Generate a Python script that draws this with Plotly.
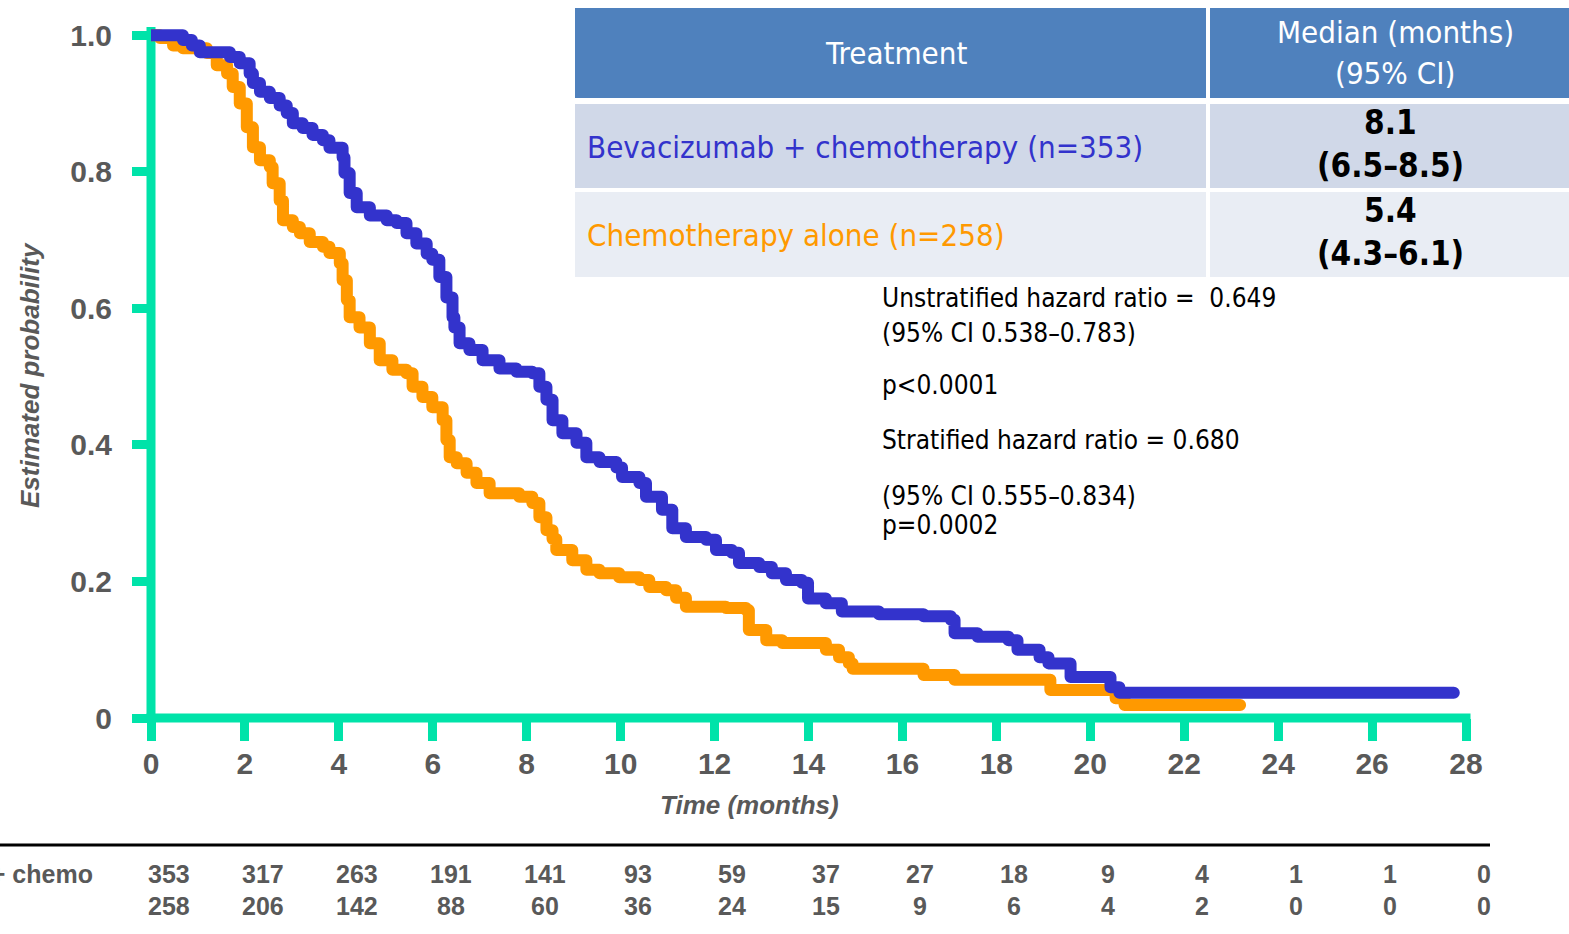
import plotly.graph_objects as go

# ---------------- data ----------------
bev_time = [0, 0.47, 0.68, 0.87, 1.04, 1.53, 1.68, 1.89, 2.10, 2.17, 2.32, 2.53, 2.74, 2.89, 3.02, 3.23,
            3.44, 3.66, 3.80, 4.08, 4.12, 4.23, 4.38, 4.66, 5.02, 5.23, 5.44, 5.65, 5.87, 5.99, 6.14,
            6.29, 6.42, 6.46, 6.57, 6.78, 7.06, 7.42, 7.78, 8.12, 8.27, 8.42, 8.55, 8.76, 9.06, 9.27,
            9.55, 9.91, 10.03, 10.40, 10.54, 10.88, 11.10, 11.39, 11.82, 12.03, 12.37, 12.52, 12.95,
            13.22, 13.52, 13.86, 13.99, 14.37, 14.71, 15.50, 16.45, 17.03, 17.11, 17.60, 18.26, 18.45,
            18.92, 19.11, 19.58, 20.43, 20.62, 27.74]
bev_surv = [1.0, 1.0, 0.993, 0.985, 0.975, 0.975, 0.968, 0.959, 0.944, 0.93, 0.917, 0.908, 0.897, 0.886,
            0.871, 0.864, 0.854, 0.846, 0.835, 0.821, 0.798, 0.769, 0.748, 0.736, 0.729, 0.725, 0.71,
            0.695, 0.68, 0.671, 0.646, 0.616, 0.587, 0.572, 0.549, 0.539, 0.524, 0.512, 0.507, 0.505,
            0.485, 0.466, 0.436, 0.417, 0.403, 0.382, 0.375, 0.367, 0.353, 0.344, 0.324, 0.305, 0.278,
            0.265, 0.261, 0.246, 0.242, 0.227, 0.221, 0.212, 0.202, 0.198, 0.175, 0.168, 0.156, 0.152,
            0.149, 0.144, 0.124, 0.119, 0.114, 0.10, 0.089, 0.08, 0.06, 0.045, 0.037, 0.037]

chemo_time = [0, 0.19, 0.47, 0.68, 1.19, 1.40, 1.62, 1.74, 1.89, 2.04, 2.17, 2.32, 2.53, 2.59, 2.74, 2.81,
              3.02, 3.17, 3.38, 3.66, 3.80, 4.02, 4.08, 4.17, 4.23, 4.44, 4.66, 4.87, 5.14, 5.44, 5.57,
              5.78, 5.99, 6.21, 6.29, 6.36, 6.51, 6.72, 6.93, 7.21, 7.84, 8.12, 8.27, 8.42, 8.55, 8.63,
              8.97, 9.27, 9.55, 9.97, 10.40, 10.61, 10.97, 11.18, 11.39, 12.24, 12.67, 12.73, 13.10,
              13.44, 14.37, 14.65, 14.86, 14.94, 16.45, 17.11, 19.15, 20.54, 20.73, 23.19]
chemo_surv = [1.0, 0.996, 0.985, 0.981, 0.974, 0.956, 0.944, 0.924, 0.900, 0.865, 0.836, 0.817, 0.807,
              0.783, 0.758, 0.729, 0.719, 0.710, 0.697, 0.690, 0.681, 0.666, 0.641, 0.612, 0.587, 0.572,
              0.549, 0.524, 0.510, 0.505, 0.485, 0.470, 0.455, 0.436, 0.407, 0.382, 0.373, 0.359, 0.344,
              0.329, 0.324, 0.315, 0.294, 0.275, 0.262, 0.246, 0.231, 0.217, 0.212, 0.206, 0.202, 0.192,
              0.187, 0.176, 0.163, 0.161, 0.158, 0.129, 0.114, 0.110, 0.10, 0.089, 0.08, 0.072, 0.063,
              0.056, 0.041, 0.029, 0.019, 0.019]

x_ticks = list(range(0, 29, 2))
y_tickvals = [0, 0.2, 0.4, 0.6, 0.8, 1.0]
y_ticktext = ["0", "0.2", "0.4", "0.6", "0.8", "1.0"]

risk_bev = [353, 317, 263, 191, 141, 93, 59, 37, 27, 18, 9, 4, 1, 1, 0]
risk_chemo = [258, 206, 142, 88, 60, 36, 24, 15, 9, 6, 4, 2, 0, 0, 0]

table_header = ["Treatment", "Median (months)", "(95% CI)"]
table_rows = ["Bevacizumab + chemotherapy (n=353)", "Chemotherapy alone (n=258)"]
table_medians = [("8.1", "(6.5–8.5)"), ("5.4", "(4.3–6.1)")]
stats_lines = ["Unstratified hazard ratio =  0.649", "(95% CI 0.538–0.783)", "p<0.0001",
               "Stratified hazard ratio = 0.680", "(95% CI 0.555–0.834)", "p=0.0002"]

# ---------------- style ----------------
W, H = 1569, 934
L, R, T, B = 151, 1466, 27, 718
X_MAX = 28
Y_MAX = 1.012
TEAL = "#00E3A9"
BLUE = "#3333CC"
ORANGE = "#FF9900"
GRAY = "#595959"
TAHOMA = "DejaVu Sans Condensed, DejaVu Sans, sans-serif"
ARIAL = "Liberation Sans, Arial, sans-serif"
AXW = 9


def px(x):
    return (x - L) / (R - L)


def py(y):
    return (B - y) / (B - T)


fig = go.Figure()
fig.add_trace(go.Scatter(x=chemo_time, y=chemo_surv, mode="lines", line=dict(color=ORANGE, width=12, shape="hv"),
                         name="Chemotherapy alone", showlegend=False))
fig.add_trace(go.Scatter(x=bev_time, y=bev_surv, mode="lines", line=dict(color=BLUE, width=12, shape="hv"),
                         name="Bevacizumab + chemotherapy", showlegend=False))

shapes = []
# axis lines (centred on the plot edges)
shapes.append(dict(type="line", xref="paper", yref="paper", x0=0, x1=0, y0=py(B + AXW / 2), y1=1,
                   line=dict(color=TEAL, width=AXW), layer="below"))
shapes.append(dict(type="line", xref="paper", yref="paper", x0=px(L - AXW / 2), x1=px(R + AXW / 2), y0=0, y1=0,
                   line=dict(color=TEAL, width=AXW), layer="below"))
# table backgrounds
cells = [
    (575, 1206, 8, 98, "#4F81BD"), (1210, 1569, 8, 98, "#4F81BD"),
    (575, 1206, 104, 188, "#D0D8E8"), (1210, 1569, 104, 188, "#D0D8E8"),
    (575, 1206, 192, 277, "#E9EDF4"), (1210, 1569, 192, 277, "#E9EDF4"),
]
for x0, x1, y0, y1, c in cells:
    shapes.append(dict(type="rect", xref="paper", yref="paper", x0=px(x0), x1=px(x1), y0=py(y1), y1=py(y0),
                       fillcolor=c, line=dict(width=0), layer="below"))
# risk table separator line
shapes.append(dict(type="line", xref="paper", yref="paper", x0=px(0), x1=px(1490), y0=py(845), y1=py(845),
                   line=dict(color="black", width=3)))

ann = []
# table texts
ann.append(dict(x=px(896), y=py(53), text=table_header[0], font=dict(family=TAHOMA, size=31, color="white")))
ann.append(dict(x=px(1395), y=py(32), text=table_header[1], font=dict(family=TAHOMA, size=31, color="white")))
ann.append(dict(x=px(1395), y=py(73), text=table_header[2], font=dict(family=TAHOMA, size=31, color="white")))
ann.append(dict(x=px(585), y=py(147), text=table_rows[0], xanchor="left",
                font=dict(family=TAHOMA, size=31, color=BLUE)))
ann.append(dict(x=px(585), y=py(235), text=table_rows[1], xanchor="left",
                font=dict(family=TAHOMA, size=31, color=ORANGE)))
for (m, ci), yc in zip(table_medians, [144, 232]):
    ann.append(dict(x=px(1390), y=py(yc - 1), text=f"<b>{m}</b>", yanchor="bottom", borderpad=0,
                    font=dict(family=TAHOMA, size=33, color="black")))
    ann.append(dict(x=px(1390), y=py(yc + 1), text=f"<b>{ci}</b>", yanchor="top", borderpad=0,
                    font=dict(family=TAHOMA, size=33, color="black")))
# stats
for txt, yy in zip(stats_lines, [298, 333, 385, 440, 496, 525]):
    ann.append(dict(x=px(880), y=py(yy), text=txt, xanchor="left",
                    font=dict(family=TAHOMA, size=26, color="black")))
# axis titles
ann.append(dict(x=px(749), y=py(805), text="<b><i>Time (months)</i></b>",
                font=dict(family=ARIAL, size=26, color=GRAY)))
ann.append(dict(x=px(30), y=py(375), text="<b><i>Estimated probability</i></b>", textangle=-90,
                font=dict(family=ARIAL, size=26, color=GRAY)))
# risk table
ann.append(dict(x=px(95), y=py(874), text="<b>Bev + chemo</b>", xanchor="right",
                font=dict(family=ARIAL, size=25, color=GRAY)))
for t, a, b in zip(x_ticks, risk_bev, risk_chemo):
    xp = (t + 0.38) / X_MAX
    ann.append(dict(x=xp, y=py(874), text=f"<b>{a}</b>",
                    font=dict(family=ARIAL, size=25, color=GRAY)))
    ann.append(dict(x=xp, y=py(906), text=f"<b>{b}</b>",
                    font=dict(family=ARIAL, size=25, color=GRAY)))

for a in ann:
    a.setdefault("xref", "paper")
    a.setdefault("yref", "paper")
    a.setdefault("showarrow", False)
    a.setdefault("xanchor", "center")
    a.setdefault("yanchor", "middle")

fig.update_layout(
    width=W, height=H,
    margin=dict(l=L, r=W - R, t=T, b=H - B, pad=0),
    paper_bgcolor="white", plot_bgcolor="white",
    shapes=shapes, annotations=ann,
    xaxis=dict(range=[0, X_MAX], tickvals=x_ticks, ticktext=[f"<b>{v}</b>" for v in x_ticks],
               showline=False, ticks="outside", ticklen=22, tickwidth=AXW,
               tickcolor=TEAL, showgrid=False, zeroline=False, ticklabelstandoff=-3,
               tickfont=dict(family=ARIAL, size=30, color=GRAY)),
    yaxis=dict(range=[0, Y_MAX], tickvals=y_tickvals, ticktext=[f"<b>{v}</b>" for v in y_ticktext],
               showline=False, ticks="outside", ticklen=18, tickwidth=AXW,
               tickcolor=TEAL, showgrid=False, zeroline=False, ticklabelstandoff=14,
               tickfont=dict(family=ARIAL, size=30, color=GRAY)),
)

post = """
document.querySelectorAll('.scatterlayer .js-line').forEach(function(p){
  p.style.strokeLinejoin = 'round'; p.style.strokeLinecap = 'round';
});
"""
fig.write_html("out.html", post_script=post)
